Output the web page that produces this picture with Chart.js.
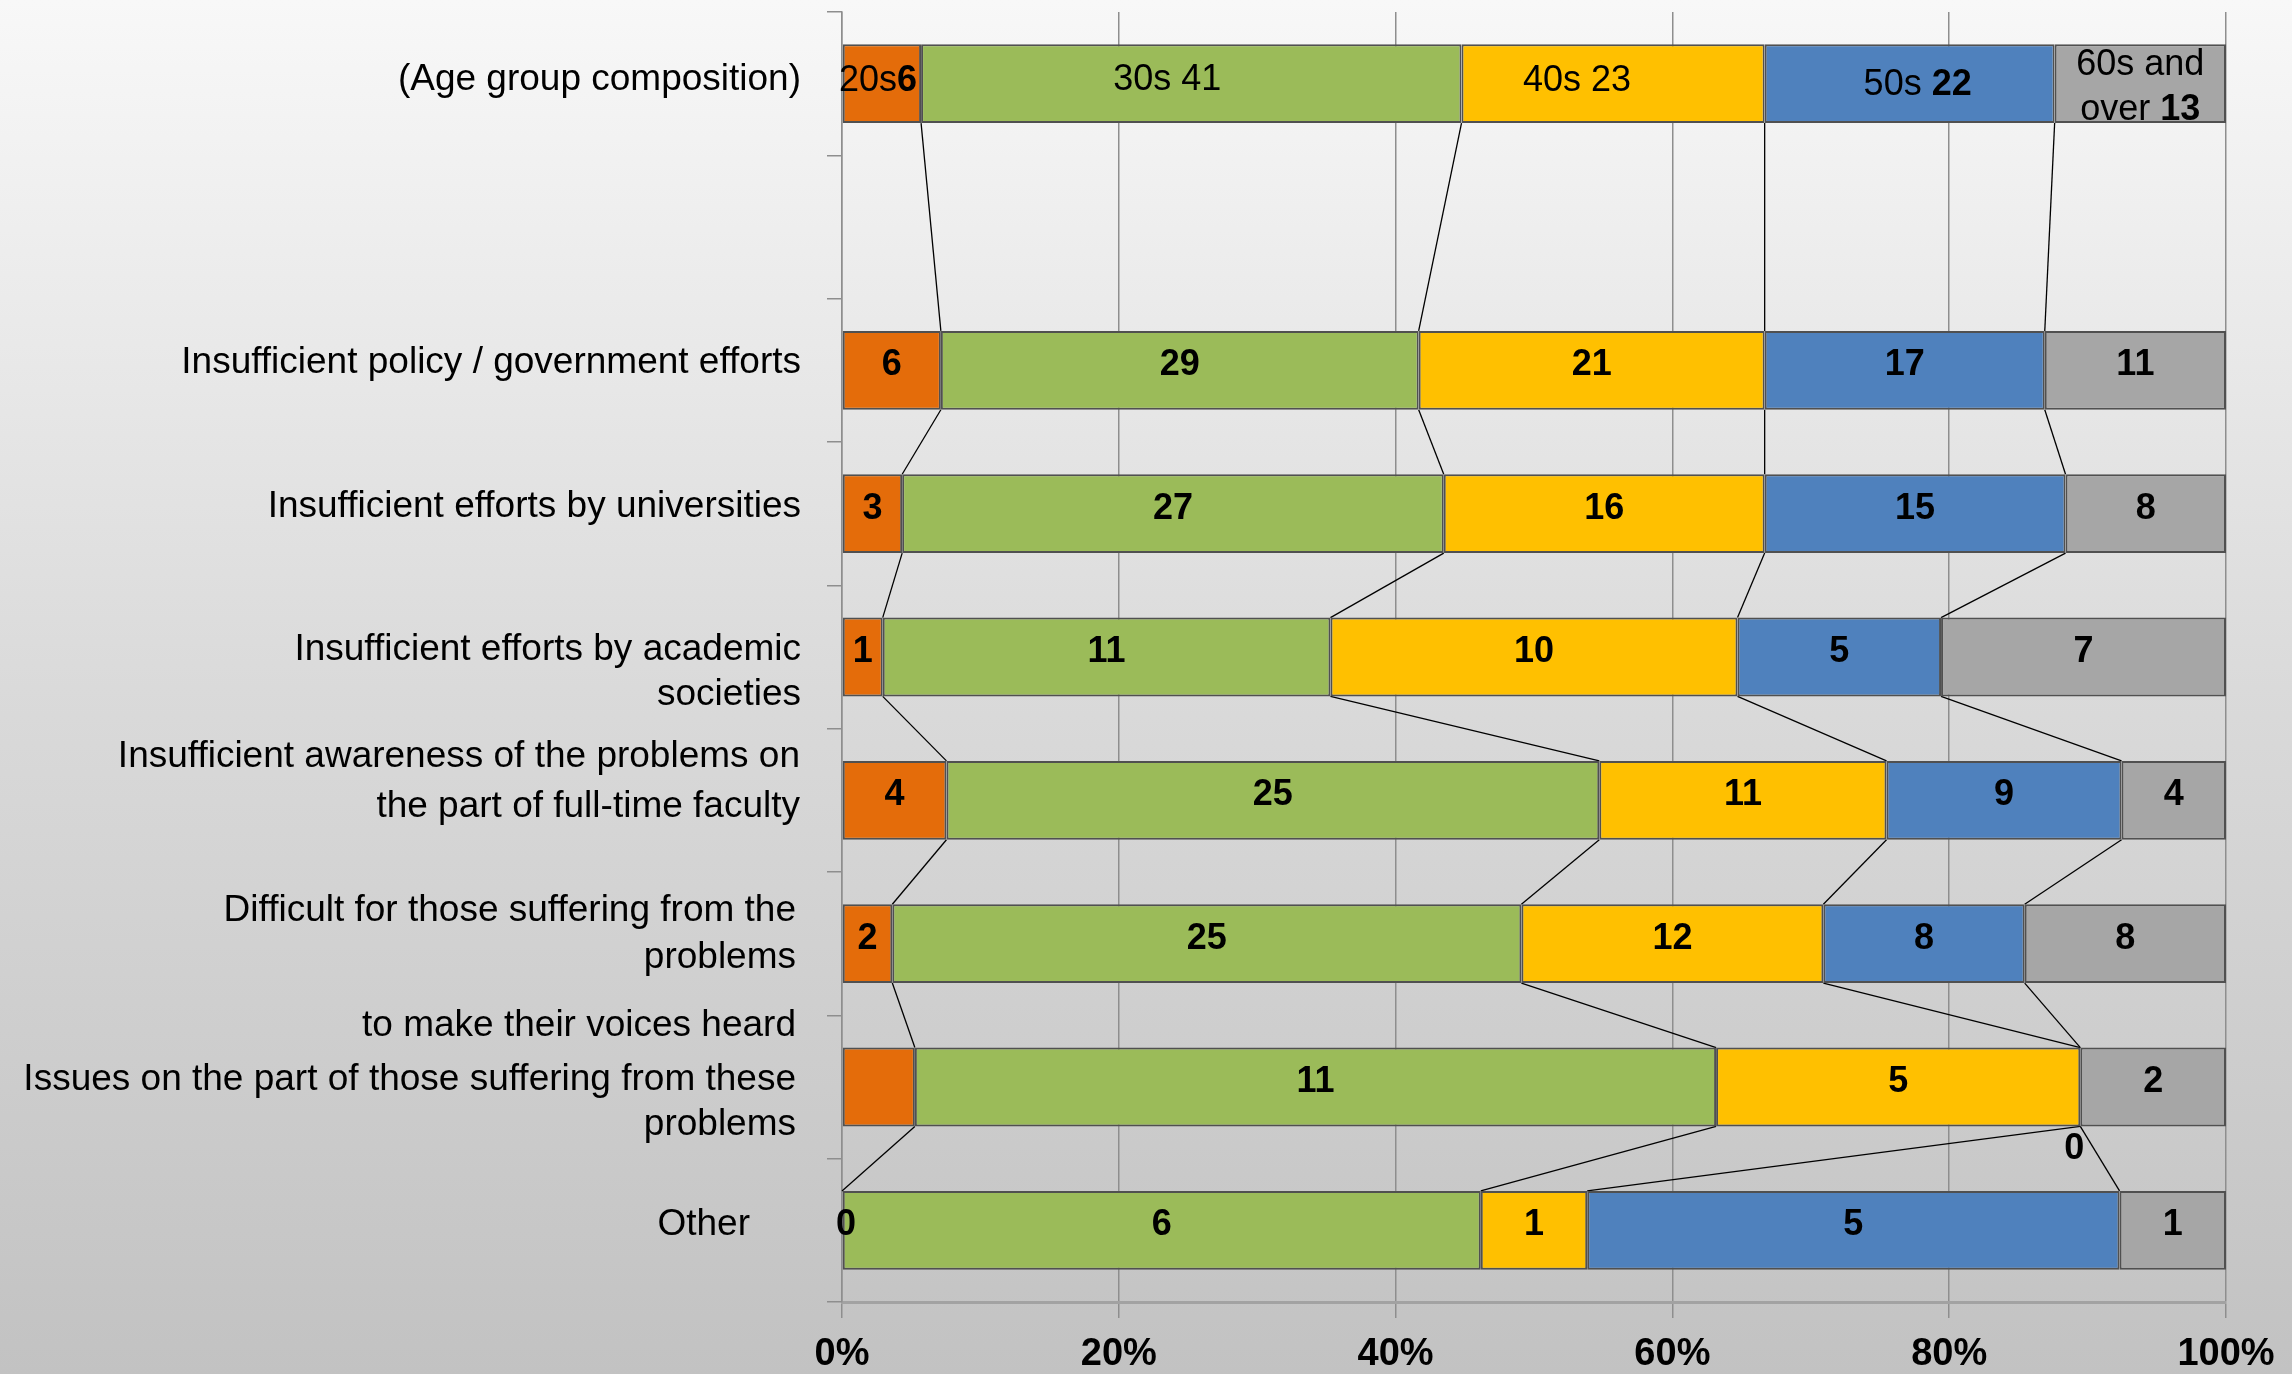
<!DOCTYPE html>
<html><head><meta charset="utf-8">
<script src="https://cdn.jsdelivr.net/npm/chart.js@4/dist/chart.umd.min.js"></script>
<style>html,body{margin:0;padding:0;overflow:hidden;background:#fff}canvas{display:block}</style>
</head><body>
<canvas id="c" width="2292" height="1374"></canvas>
<script>
// ---------- DATA ----------
const categoryLines = [
  ['(Age group composition)'],
  [],
  ['Insufficient policy / government efforts'],
  ['Insufficient efforts by universities'],
  ['Insufficient efforts by academic', 'societies'],
  ['Insufficient awareness of the problems on', 'the part of full-time faculty'],
  ['Difficult for those suffering from the', 'problems', 'to make their voices heard'],
  ['Issues on the part of those suffering from these', 'problems'],
  ['Other']
];
const categories = categoryLines.map(l => l.join(' '));
const seriesNames = ['20s', '30s', '40s', '50s', '60s and over'];
const s20s  = [6,  null, 6,  3,  1,  4,  2,  1,  0];
const s30s  = [41, null, 29, 27, 11, 25, 25, 11, 6];
const s40s  = [23, null, 21, 16, 10, 11, 12, 5,  1];
const s50s  = [22, null, 17, 15, 5,  9,  8,  0,  5];
const s60s  = [13, null, 11, 8,  7,  4,  8,  2,  1];
const xTicks = [0, 20, 40, 60, 80, 100];
// age-row label text pieces (prefix shown in regular weight, value appended)
const ageLabelLines = [['20s'], ['30s '], ['40s '], ['50s '], ['60s and', 'over ']];
const ageValueBold = [true, false, false, true, true];
const hiddenLabels = [[7, 0]]; // [row, series] labels not shown in the source

// ---------- STYLE / LAYOUT ----------
const colors = ['#E46C0A', '#9BBB59', '#FFC000', '#4F81BD', '#A6A6A6'];
const FONT = '"Liberation Sans", Arial, sans-serif';
const catDy = [[6], [], [3], [3], [3, 48], [-33, 17], [-23, 24, 92], [3, 48], [5]];
const catRight = [801, 0, 801, 801, 801, 800, 796, 796, 750];
const ageDy = [[7], [6], [7], [11], [-9, 36]];
const ageDx = [-4, -24, -36, 8, 0];

const raw = [s20s, s30s, s40s, s50s, s60s];
const totals = categories.map((_, i) => raw.reduce((a, s) => a + (s[i] || 0), 0));
const pct = raw.map(s => s.map((v, i) => v == null ? null : v / totals[i] * 100));

const bgPlugin = {
  id: 'bg',
  beforeDraw(chart) {
    const ctx = chart.ctx;
    const g = ctx.createLinearGradient(0, 0, 0, chart.height);
    g.addColorStop(0, '#f8f8f8');
    g.addColorStop(0.5, '#dadada');
    g.addColorStop(1, '#c2c2c2');
    ctx.save(); ctx.fillStyle = g; ctx.fillRect(0, 0, chart.width, chart.height); ctx.restore();
  }
};

const seriesLinesPlugin = {
  id: 'serieslines',
  beforeDatasetsDraw(chart) {
    const ctx = chart.ctx;
    const rows = totals.map((t, i) => t > 0 ? i : -1).filter(i => i >= 0);
    ctx.save();
    ctx.strokeStyle = '#000'; ctx.lineWidth = 1.3;
    for (let k = 0; k < rows.length - 1; k++) {
      const a = rows[k], b = rows[k + 1];
      for (let d = 0; d < raw.length - 1; d++) {
        const meta = chart.getDatasetMeta(d);
        const ea = meta.data[a].getProps(['x', 'y', 'height'], true);
        const eb = meta.data[b].getProps(['x', 'y', 'height'], true);
        ctx.beginPath();
        ctx.moveTo(ea.x, ea.y + ea.height / 2);
        ctx.lineTo(eb.x, eb.y - eb.height / 2);
        ctx.stroke();
      }
    }
    ctx.restore();
  }
};

function drawParts(ctx, parts, cx, y) {
  let total = 0;
  parts.forEach(p => { ctx.font = p[1]; total += ctx.measureText(p[0]).width; });
  let x = cx - total / 2;
  ctx.textAlign = 'left';
  parts.forEach(p => { ctx.font = p[1]; ctx.fillText(p[0], x, y); x += ctx.measureText(p[0]).width; });
}

const labelsPlugin = {
  id: 'labels',
  afterDatasetsDraw(chart) {
    const ctx = chart.ctx;
    ctx.save();
    ctx.fillStyle = '#000';
    ctx.textBaseline = 'alphabetic';
    const reg = '36px ' + FONT, bold = 'bold 36px ' + FONT;
    raw.forEach((s, d) => {
      const meta = chart.getDatasetMeta(d);
      s.forEach((v, i) => {
        if (v == null) return;
        if (hiddenLabels.some(h => h[0] === i && h[1] === d)) return;
        const el = meta.data[i].getProps(['x', 'y', 'base', 'height'], true);
        const cx = (el.x + el.base) / 2;
        if (i === 0) {
          const lines = ageLabelLines[d];
          lines.forEach((ln, j) => {
            const parts = [[ln, reg]];
            if (j === lines.length - 1) parts.push([String(v), ageValueBold[d] ? bold : reg]);
            drawParts(ctx, parts, cx + ageDx[d], el.y + ageDy[d][j]);
          });
          return;
        }
        ctx.font = bold; ctx.textAlign = 'center';
        if (v === 0) {
          if (d === 0) ctx.fillText('0', el.base + 4, el.y + 5);
          else ctx.fillText('0', el.x - 6, el.y + el.height / 2 + 33);
          return;
        }
        ctx.fillText(String(v), cx, el.y + 5);
      });
    });
    // category labels
    const ys = chart.scales.y;
    ctx.font = '37px ' + FONT; ctx.textAlign = 'right';
    categoryLines.forEach((lines, i) => {
      const yc = ys.getPixelForValue(i);
      lines.forEach((ln, j) => ctx.fillText(ln, catRight[i], yc + catDy[i][j]));
    });
    ctx.restore();
  }
};

new Chart(document.getElementById('c'), {
  type: 'bar',
  data: {
    labels: categories,
    datasets: pct.map((p, d) => ({
      label: seriesNames[d],
      data: p,
      backgroundColor: colors[d],
      borderColor: '#505050',
      borderWidth: 2,
      borderSkipped: false,
      barPercentage: 0.55,
      categoryPercentage: 1
    }))
  },
  options: {
    indexAxis: 'y',
    responsive: false,
    devicePixelRatio: 1,
    animation: false,
    layout: { padding: { top: 12, right: 66, left: 0, bottom: 0 } },
    plugins: { legend: { display: false }, tooltip: { enabled: false } },
    scales: {
      x: {
        stacked: true, min: 0, max: 100,
        afterBuildTicks(scale) { scale.ticks = xTicks.map(v => ({ value: v })); },
        afterFit(scale) { scale.height = 72; },
        ticks: { callback: v => v + '%', font: { family: FONT, size: 38, weight: 'bold' }, color: '#000', padding: 14, maxRotation: 0 },
        grid: { color: '#8e8e8e', lineWidth: 1.5, drawTicks: true, tickLength: 16 },
        border: { display: true, color: '#a2a2a2', width: 3 }
      },
      y: {
        stacked: true,
        afterFit(scale) { scale.width = 842; },
        ticks: { display: false },
        grid: { drawOnChartArea: false, drawTicks: true, tickLength: 15, color: '#8e8e8e', lineWidth: 1.5, offset: true },
        border: { display: true, color: '#8e8e8e', width: 1.5 }
      }
    }
  },
  plugins: [bgPlugin, seriesLinesPlugin, labelsPlugin]
});
</script>
</body></html>
